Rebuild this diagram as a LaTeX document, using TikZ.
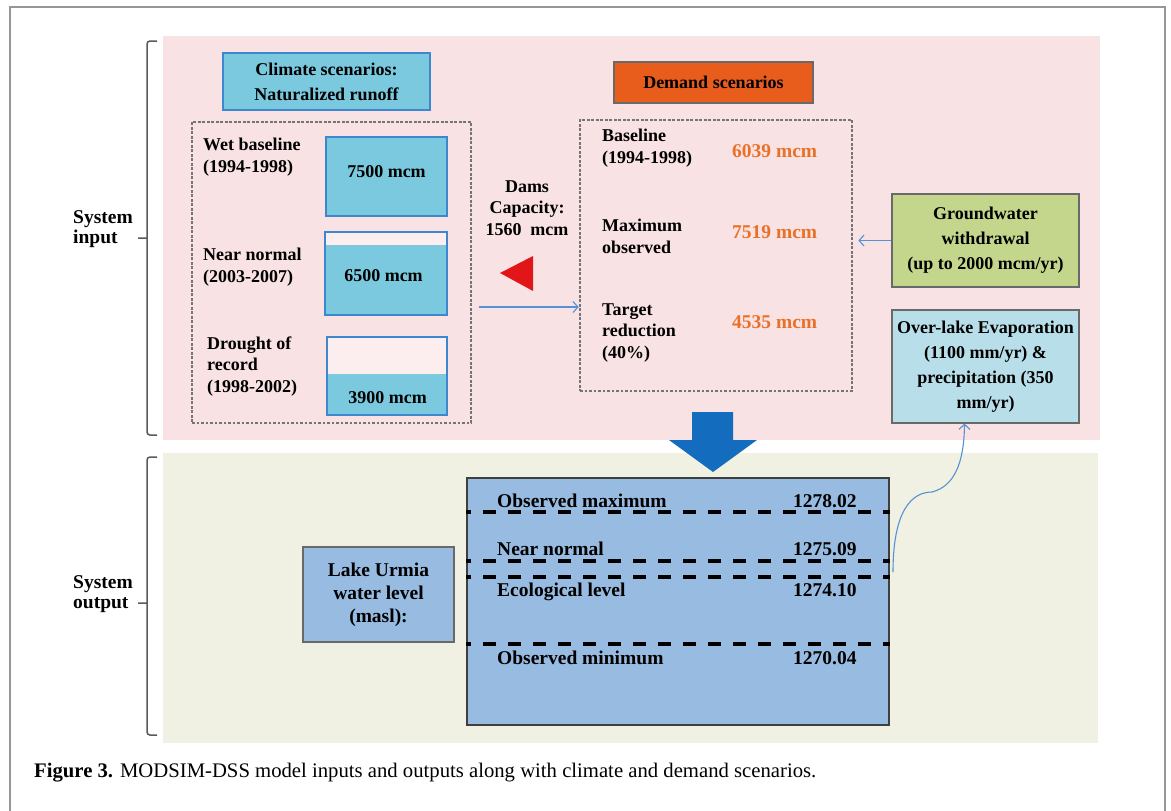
\documentclass[tikz,border=0pt]{standalone}
\usepackage{fontspec}
\setmainfont{Liberation Serif}
\usetikzlibrary{arrows.meta}

\definecolor{inbg}{RGB}{249,226,227}
\definecolor{outbg}{RGB}{240,241,226}
\definecolor{climfill}{RGB}{122,201,222}
\definecolor{climline}{RGB}{60,135,205}
\definecolor{demfill}{RGB}{232,92,28}
\definecolor{demtext}{RGB}{234,112,40}
\definecolor{gwfill}{RGB}{196,214,140}
\definecolor{evfill}{RGB}{184,223,233}
\definecolor{lakefill}{RGB}{151,187,225}
\definecolor{arrblue}{RGB}{20,108,190}
\definecolor{linkblue}{RGB}{85,145,212}
\definecolor{framegray}{RGB}{150,150,152}
\definecolor{dotgray}{RGB}{115,115,120}
\definecolor{boxgray}{RGB}{105,105,105}
\definecolor{damred}{RGB}{226,22,24}

\newcommand{\boxfont}{\fontsize{18}{25}\selectfont\bfseries}
\newcommand{\lblfont}{\fontsize{18}{21.5}\selectfont\bfseries}
\newcommand{\lakefont}{\fontsize{19.5}{23}\selectfont\bfseries}

\tikzset{
  sbox/.style={draw=boxgray, line width=1.2pt, align=center, inner sep=0pt, font=\boxfont},
  dotbox/.style={draw=dotgray, line width=2.6pt, dash pattern=on 2.6pt off 1.9pt},
  tank/.style={draw=climline, line width=1.5pt, fill={rgb,255:red,252;green,238;blue,238},
    path picture={\fill[climfill] (path picture bounding box.south west) rectangle
      ([yshift=#1]path picture bounding box.south east);}},
  lbl/.style={anchor=base west, align=left, inner sep=0pt, font=\lblfont},
  val/.style={anchor=base west, inner sep=0pt, text=demtext, font=\lakefont},
  lvl/.style={anchor=base west, inner sep=0pt, font=\lakefont},
  link/.style={draw=linkblue, line width=1.1pt, -{Straight Barb[length=5pt,width=11pt]}},
  levelline/.style={line width=3.5pt, dash pattern=on 13pt off 12pt, dash phase=8pt},
  bracket/.style={draw={rgb,255:red,90;green,90;blue,90}, line width=1.5pt, rounded corners=3pt}
}

\begin{document}
\begin{tikzpicture}[x=1pt, y=-1pt]
  \useasboundingbox (0,0) rectangle (1171,811);
  \draw[framegray, line width=2pt] (10,811) -- (10,7) -- (1165,7) -- (1165,811);
  \fill[inbg] (163,36) rectangle (1100,440);
  \fill[outbg] (163,453) rectangle (1098,743);

  \draw[bracket] (157,41) -- (147,41) -- (147,435) -- (157,435) (147,238) -- (138,238);
  \draw[bracket] (157,457) -- (147,457) -- (147,735) -- (157,735) (147,603) -- (138,603);
  \node[lbl, font=\fontsize{19.5}{20}\selectfont\bfseries] (sysin) at (73,243) {System\\input};
  \node[lbl, font=\fontsize{19.5}{20}\selectfont\bfseries] (sysout) at (73,608) {System\\output};

  \node[sbox, draw=climline, fill=climfill, minimum width=207, minimum height=57] (climate) at (326.5,81.5) {Climate scenarios:\\Naturalized runoff};
  \node[dotbox, minimum width=279, minimum height=301] (climdots) at (331.5,272.5) {};
  \node[tank=79, minimum width=121, minimum height=79] (wet) at (386.5,176.5) {};
  \node[tank=70, minimum width=122, minimum height=83] (near) at (386,273.5) {};
  \node[tank=41, minimum width=120, minimum height=78] (drought) at (387,376) {};
  \node[lvl, anchor=base, font=\lblfont] (wetv) at (386.5,177) {7500 mcm};
  \node[lvl, anchor=base, font=\lblfont] (nearv) at (383.5,281) {6500 mcm};
  \node[lvl, anchor=base, font=\lblfont] (droughtv) at (387.5,403) {3900 mcm};
  \node[lbl] (wetlbl) at (203,172) {Wet baseline\\(1994-1998)};
  \node[lbl] (nearlbl) at (203,282) {Near normal\\(2003-2007)};
  \node[lbl] (droughtlbl) at (207,392) {Drought of\\record\\(1998-2002)};

  \node[lbl, anchor=base, align=center] (dams) at (527,235) {Dams\\Capacity:\\1560\ \ mcm};
  \fill[damred] (500,273) -- (533,256) -- (533,291) -- cycle;

  \node[sbox, fill=demfill, minimum width=199, minimum height=41] (demand) at (713.5,82.5) {Demand scenarios};
  \node[dotbox, minimum width=272, minimum height=271] (demdots) at (716,255.5) {};
  \node[lbl] (basel) at (602,163) {Baseline\\(1994-1998)};
  \node[lbl] (maxobs) at (602,253) {Maximum\\observed};
  \node[lbl] (target) at (602,358) {Target\\reduction\\(40\%)};
  \node[val] (baselv) at (732,157) {6039 mcm};
  \node[val] (maxobsv) at (732,238) {7519 mcm};
  \node[val] (targetv) at (732,328) {4535 mcm};

  \node[sbox, fill=gwfill, minimum width=187, minimum height=93] (gw) at (985.5,240.5) {Groundwater\\withdrawal\\(up to 2000 mcm/yr)};
  \node[sbox, fill=evfill, minimum width=187, minimum height=113] (evap) at (985.5,366.5) {Over-lake Evaporation\\(1100 mm/yr) \&\\precipitation (350\\mm/yr)};

  \coordinate (flow) at (0,307);
  \draw[link] ([xshift=7pt]climdots.east |- flow) -- (demdots.west |- flow);
  \draw[link] (gw.west) -- ([xshift=5pt]demdots.east |- gw.west);

  \fill[arrblue] (692,412) -- (733,412) -- (733,440) -- (757,440) -- (713,472) -- (669,440) -- (692,440) -- cycle;

  \node[draw=boxgray!60!black, line width=1.8pt, fill=lakefill, minimum width=422, minimum height=247] (lake) at (678,601.5) {};
  \foreach \ly [count=\i] in {512,561,577,644} {
    \coordinate (lv\i) at (0,\ly);
    \draw[levelline] (lake.west |- lv\i) -- (lake.east |- lv\i);
  }
  \node[lvl] (omax) at (497,507) {Observed maximum};
  \node[lvl] (omaxv) at (793,507) {1278.02};
  \node[lvl] (nnorm) at (497,555) {Near normal};
  \node[lvl] (nnormv) at (793,555) {1275.09};
  \node[lvl] (eco) at (497,596) {Ecological level};
  \node[lvl] (ecov) at (793,596) {1274.10};
  \node[lvl] (omin) at (497,664) {Observed minimum};
  \node[lvl] (ominv) at (793,664) {1270.04};
  \node[sbox, fill=lakefill, minimum width=151, minimum height=95, font=\lakefont] (lakelbl) at (378.5,594.5) {Lake Urmia\\water level\\(masl):};

  \coordinate (cstart) at (893,572);
  \draw[link] (cstart) .. controls (893,510) and (912,492) .. (932,492) .. controls (955,486) and (964,462) .. ([xshift=-21pt]evap.south);

  \node[anchor=base west, inner sep=0pt, font=\fontsize{20.7}{24}\selectfont] (caption) at (34,777) {\textbf{Figure 3.} MODSIM-DSS model inputs and outputs along with climate and demand scenarios.};
\end{tikzpicture}
\end{document}
